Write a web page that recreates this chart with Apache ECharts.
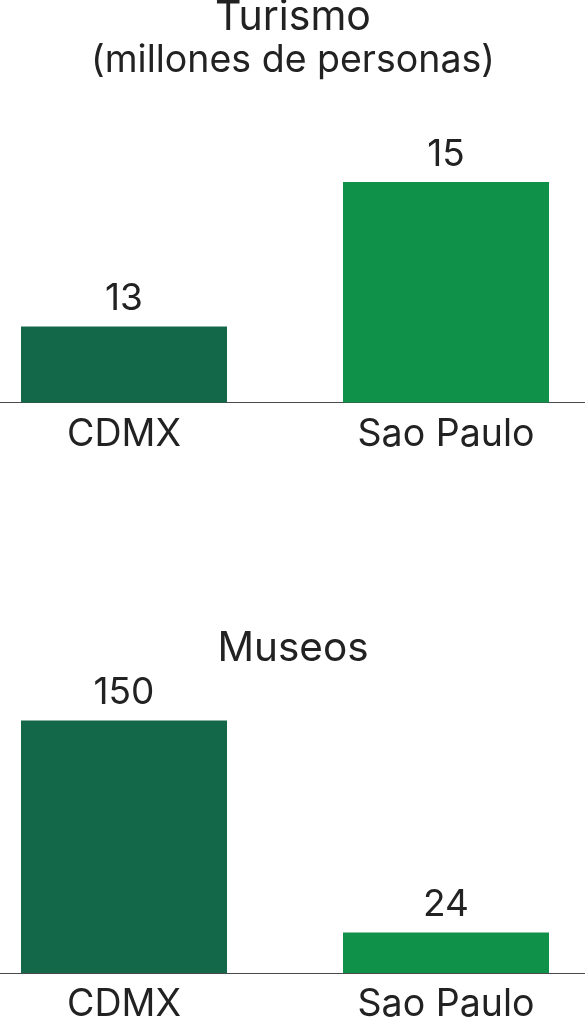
<!DOCTYPE html>
<html>
<head>
<meta charset="utf-8">
<style>
  html, body { margin: 0; padding: 0; background: #ffffff; }
  #chart { width: 585px; height: 1024px; }
</style>
<script src="https://cdn.jsdelivr.net/npm/echarts@6/dist/echarts.min.js"></script>
</head>
<body>
<div id="chart"></div>
<script>
// Cities compared in both panels
const categories = ['CDMX', 'Sao Paulo'];
// Tourism, millions of visitors
const turismo = [13, 15];
// Number of museums
const museos = [150, 24];
// Panel headings
const turismoTitle = 'Turismo';
const turismoSubtitle = '(millones de personas)';
const museosTitle = 'Museos';

const cityColors = ['#136849', '#109149'];
const FONT = 'Inter';
const TEXT = '#222222';
const TITLE_X = 288;

// Horizontal extent of the city slots: the two bars sit one slot apart,
// the first slot starting a little left of the canvas edge.
const X_MIN = -124 / 322;
const X_MAX = (585 - 124) / 322;

function points(values) {
  return values.map((v, i) => ({ value: [i, v], itemStyle: { color: cityColors[i] } }));
}

function xAxisFor(gridIndex) {
  return {
    type: 'value',
    gridIndex,
    min: X_MIN,
    max: X_MAX,
    splitLine: { show: false },
    axisTick: { show: false },
    axisLine: { show: true, onZero: false, lineStyle: { color: '#4a4a4a', width: 1.2 } },
    axisLabel: {
      show: true,
      customValues: categories.map((_, i) => i),
      formatter: (v) => categories[Math.round(v)],
      color: TEXT, fontFamily: FONT, fontSize: 37.5, margin: 13
    }
  };
}

function barSeries(values, idx) {
  return {
    type: 'bar',
    xAxisIndex: idx,
    yAxisIndex: idx,
    data: points(values),
    barWidth: 206,
    label: {
      show: true,
      position: 'top',
      distance: 9,
      color: TEXT,
      fontFamily: FONT,
      fontSize: 37,
      formatter: (p) => String(p.value[1])
    }
  };
}

function heading(text, top, fontSize) {
  return {
    text, left: TITLE_X, top, textAlign: 'center',
    textStyle: { color: TEXT, fontFamily: FONT, fontSize, fontWeight: 'normal' }
  };
}

const chart = echarts.init(document.getElementById('chart'));
chart.setOption({
  animation: false,
  backgroundColor: '#ffffff',
  title: [
    heading(turismoTitle, -8, 41),
    heading(turismoSubtitle, 37, 37.5),
    heading(museosTitle, 623, 40.5)
  ],
  grid: [
    { left: 0, right: 0, top: 182, bottom: 1024 - 402.5 },
    { left: 0, right: 0, top: 720.5, bottom: 1024 - 973.5 }
  ],
  xAxis: [xAxisFor(0), xAxisFor(1)],
  yAxis: [
    { type: 'value', gridIndex: 0, min: 11.95, max: 15, show: false },
    { type: 'value', gridIndex: 1, min: 0, max: 150, show: false }
  ],
  series: [barSeries(turismo, 0), barSeries(museos, 1)]
});
</script>
</body>
</html>
